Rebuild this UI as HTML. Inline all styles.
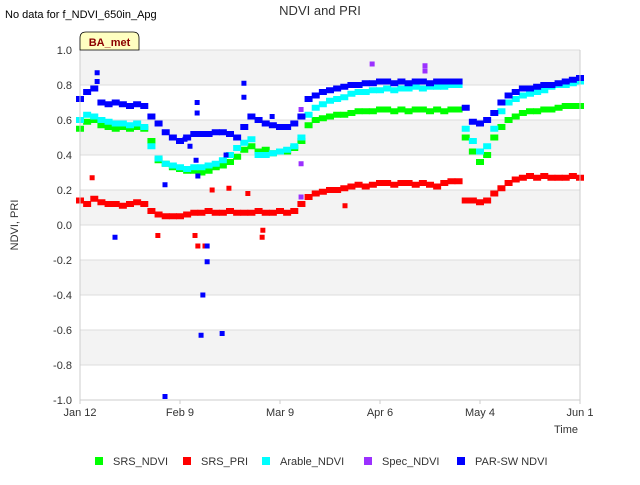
<!DOCTYPE html>
<html><head><meta charset="utf-8"><style>
body{margin:0;background:#fff;font-family:"Liberation Sans",sans-serif;}
svg text{font-family:"Liberation Sans",sans-serif;}
</style></head><body>
<svg id="chart" width="640" height="480">
<rect x="0" y="0" width="640" height="480" fill="#fff"/>
<g id="bands"></g>
<g id="grid"></g>
<g id="marks"></g>
<line x1="80" y1="50" x2="80" y2="400" stroke="#ccc"/>
<line x1="580" y1="50" x2="580" y2="400" stroke="#ccc"/>
<line x1="80" y1="400" x2="580" y2="400" stroke="#ccc"/>
<g id="yticks"></g><g id="xticks"></g>
<text x="320" y="15" text-anchor="middle" font-size="13" fill="#333">NDVI and PRI</text>
<text x="5" y="18" font-size="11" fill="#000">No data for f_NDVI_650in_Apg</text>
<g>
<path d="M80,50 L80,38 Q80,32 86,32 L133,32 Q139,32 139,38 L139,50 Z" fill="#ffffc0" stroke="#000" stroke-width="0.8"/>
<text x="109.5" y="46" text-anchor="middle" font-size="11" font-weight="bold" fill="#8b0000">BA_met</text>
</g>
<text transform="translate(18,225) rotate(-90)" text-anchor="middle" font-size="11" fill="#333">NDVI, PRI</text>
<text x="578" y="433" text-anchor="end" font-size="11" fill="#333">Time</text>
<g id="legend"></g>
</svg>
<script>
const yTicks=[1.0,0.8,0.6,0.4,0.2,0.0,-0.2,-0.4,-0.6,-0.8,-1.0];
const xTickLabels=["Jan 12","Feb 9","Mar 9","Apr 6","May 4","Jun 1"];
const xTickDays=[0,28,56,84,112,140];
const step=2;
const srsNdvi=[0.55,0.59,0.6,0.57,0.56,0.55,0.56,0.55,0.56,0.55,0.48,0.37,0.35,0.33,0.32,0.31,0.31,0.3,0.31,0.33,0.34,0.36,0.39,0.43,0.45,0.42,0.43,0.41,0.42,0.42,0.44,0.48,0.57,0.6,0.61,0.62,0.63,0.63,0.64,0.65,0.65,0.65,0.66,0.66,0.65,0.66,0.65,0.66,0.66,0.65,0.66,0.65,0.66,0.66,0.5,0.42,0.36,0.4,0.5,0.56,0.6,0.62,0.64,0.65,0.65,0.66,0.66,0.67,0.68,0.68,0.68];
const arableNdvi=[0.6,0.63,0.62,0.6,0.59,0.58,0.58,0.57,0.58,0.56,0.45,0.38,0.35,0.34,0.33,0.32,0.33,0.33,0.34,0.35,0.37,0.4,0.44,0.47,0.49,0.4,0.4,0.41,0.42,0.43,0.45,0.5,0.63,0.67,0.69,0.71,0.72,0.73,0.75,0.76,0.76,0.77,0.77,0.78,0.77,0.78,0.78,0.79,0.78,0.79,0.79,0.79,0.8,0.8,0.55,0.48,0.42,0.45,0.55,0.65,0.7,0.72,0.74,0.75,0.76,0.77,0.79,0.8,0.8,0.81,0.82];
const parNdvi=[0.72,0.76,0.78,0.7,0.69,0.7,0.69,0.68,0.69,0.68,0.62,0.58,0.53,0.5,0.48,0.5,0.52,0.52,0.52,0.53,0.53,0.52,0.5,0.56,0.62,0.6,0.58,0.57,0.56,0.56,0.58,0.62,0.72,0.74,0.76,0.77,0.78,0.79,0.8,0.8,0.81,0.81,0.82,0.82,0.81,0.82,0.81,0.82,0.82,0.81,0.82,0.82,0.82,0.82,0.67,0.59,0.58,0.6,0.64,0.7,0.74,0.76,0.78,0.78,0.79,0.8,0.8,0.81,0.82,0.83,0.84];
const srsPri=[0.14,0.12,0.15,0.13,0.12,0.12,0.11,0.12,0.13,0.12,0.08,0.06,0.05,0.05,0.05,0.06,0.07,0.07,0.08,0.07,0.07,0.08,0.07,0.07,0.07,0.08,0.07,0.07,0.08,0.07,0.08,0.12,0.16,0.18,0.19,0.2,0.2,0.21,0.22,0.23,0.22,0.23,0.24,0.24,0.23,0.24,0.24,0.23,0.24,0.23,0.22,0.24,0.25,0.25,0.14,0.14,0.13,0.14,0.18,0.21,0.24,0.26,0.27,0.28,0.27,0.28,0.27,0.27,0.27,0.28,0.27];
const parOutDays=[4.8,4.8,9.8,23.8,23.8,32.8,32.8,33.9,34.4,35.6,35.6,39.8,45.9,45.9,32.5,33,40.9,53.8,29.4,30.8];
const parOutVals=[0.87,0.82,-0.07,-0.98,0.23,0.7,0.64,-0.63,-0.4,-0.21,-0.12,-0.62,0.81,0.73,0.37,0.28,0.4,0.62,0.49,0.45];
const priOutDays=[3.4,21.8,33,35,51,51.2,41.7,47,32.2,74.2,37];
const priOutVals=[0.27,-0.06,-0.12,-0.12,-0.07,-0.03,0.21,0.18,-0.06,0.11,0.2];
const specDays=[61.9,61.9,61.9,81.8,96.6,96.6];
const specVals=[0.66,0.35,0.16,0.92,0.91,0.88];
const NS="http://www.w3.org/2000/svg";
const X=d=>80+d*500/140;
const Y=v=>225-v*175;
function mk(t,a,p){const e=document.createElementNS(NS,t);for(const k in a)e.setAttribute(k,a[k]);p.appendChild(e);return e;}
const bands=document.getElementById('bands'),grid=document.getElementById('grid'),marks=document.getElementById('marks');
for(let i=0;i<10;i+=2){const r=mk('rect',{x:80,y:Y(yTicks[i]),width:500,height:Y(yTicks[i+1])-Y(yTicks[i]),fill:'#f3f3f3'},bands);

}
const yt=document.getElementById('yticks');
yTicks.forEach(v=>{mk('line',{x1:80,x2:580,y1:Y(v),y2:Y(v),stroke:'#ddd'},grid);
const t=mk('text',{x:72,y:Y(v)+4,'text-anchor':'end','font-size':11,fill:'#333'},yt);t.textContent=v.toFixed(1);

});
const xt=document.getElementById('xticks');
xTickDays.forEach((d,i)=>{mk('line',{x1:X(d),x2:X(d),y1:400,y2:404,stroke:'#ccc'},xt);
const t=mk('text',{x:X(d),y:416,'text-anchor':'middle','font-size':11,fill:'#333'},xt);t.textContent=xTickLabels[i];

});
function series(vals,color,name){const g=mk('g',{},marks);


vals.forEach((v,i)=>{mk('rect',{x:X(i*step)-4,y:Y(v)-3,width:8,height:6,fill:color},g);});}
function scatter(days,vals,color,name){const g=mk('g',{},marks);


days.forEach((d,i)=>{mk('rect',{x:X(d)-2.5,y:Y(vals[i])-2.5,width:5,height:5,fill:color},g);});}
series(srsPri,'#ff0000','srs-pri-series');
scatter(priOutDays,priOutVals,'#ff0000','srs-pri-outliers');
series(srsNdvi,'#00ff00','srs-ndvi-series');
series(arableNdvi,'#00ffff','arable-ndvi-series');
series(parNdvi,'#0000ff','par-sw-ndvi-series');
scatter(parOutDays,parOutVals,'#0000ff','par-sw-ndvi-outliers');
scatter(specDays,specVals,'#9b30ff','spec-ndvi-series');
const leg=document.getElementById('legend');
const items=[["SRS_NDVI","#00ff00",99],["SRS_PRI","#ff0000",187],["Arable_NDVI","#00ffff",266],["Spec_NDVI","#9b30ff",368],["PAR-SW NDVI","#0000ff",461]];
items.forEach(it=>{const g=mk('g',{},leg);


mk('rect',{x:it[2]-4,y:457,width:8,height:8,fill:it[1]},g);
const t=mk('text',{x:it[2]+14,y:465,'font-size':11,fill:'#333'},g);t.textContent=it[0];});
</script>
</body></html>
